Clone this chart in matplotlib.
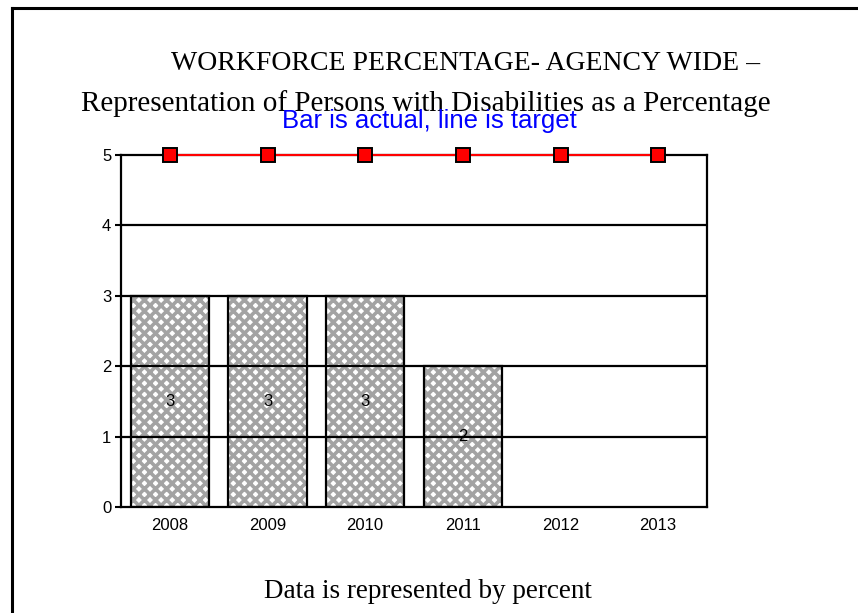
import matplotlib as mpl
mpl.use('Agg')
import matplotlib.pyplot as plt
from matplotlib.lines import Line2D

# data
years = ['2008', '2009', '2010', '2011', '2012', '2013']
actual = [3, 3, 3, 2, None, None]
target = [5, 5, 5, 5, 5, 5]

plt.rcParams['hatch.linewidth'] = 2.6

fig = plt.figure(figsize=(8.58, 6.13), dpi=100)
ax = fig.add_axes([121 / 858, 106 / 613, 586 / 858, 352 / 613])

x = list(range(len(years)))
bx = [i for i, v in zip(x, actual) if v is not None]
bv = [v for v in actual if v is not None]

# hatched fill first, black outline on top
ax.bar(bx, bv, width=0.8, color='white', edgecolor='#a3a3a3', hatch='xxx',
       linewidth=0, zorder=2)
ax.bar(bx, bv, width=0.8, fill=False, edgecolor='black', linewidth=1.6, zorder=3)
for i, v in zip(bx, bv):
    ax.text(i, v / 2, str(v), ha='center', va='center', fontsize=12,
            family='Liberation Sans', zorder=5)

# horizontal grid lines drawn over the bars
for y in [1, 2, 3, 4]:
    ax.axhline(y, color='black', linewidth=1.6, zorder=4)

ax.plot(x, target, color='red', linewidth=1.5, marker='s', markersize=10.5,
        markerfacecolor='red', markeredgecolor='black', markeredgewidth=1.4,
        zorder=6, clip_on=False)

ax.set_xlim(-0.5, len(years) - 0.5)
ax.set_ylim(0, 5)
ax.set_yticks([0, 1, 2, 3, 4, 5])
ax.set_xticks(x)
ax.set_xticklabels(years)
for lab in ax.get_xticklabels() + ax.get_yticklabels():
    lab.set_family('Liberation Sans')
    lab.set_fontsize(12)
ax.tick_params(axis='y', length=4, width=1.5, pad=3)
ax.tick_params(axis='x', length=0, pad=8)
for s in ax.spines.values():
    s.set_linewidth(1.6)

# page border
fig.add_artist(Line2D([12 / 858, 12 / 858], [0, 1 - 8 / 613], color='black',
                      linewidth=2.2, transform=fig.transFigure))
fig.add_artist(Line2D([12 / 858, 1], [1 - 8 / 613, 1 - 8 / 613], color='black',
                      linewidth=2.2, transform=fig.transFigure))

fig.text(466 / 858, 1 - 64 / 613, 'WORKFORCE PERCENTAGE- AGENCY WIDE \u2013',
         ha='center', va='center', fontsize=20, family='Liberation Serif')
fig.text(426 / 858, 1 - 104 / 613,
         'Representation of Persons with Disabilities as a Percentage',
         ha='center', va='center', fontsize=21, family='Liberation Serif')
fig.text(429 / 858, 1 - 121 / 613, 'Bar is actual, line is target',
         ha='center', va='center', fontsize=18.5, color='blue',
         family='Liberation Sans')
fig.text(428 / 858, 1 - 592 / 613, 'Data is represented by percent',
         ha='center', va='center', fontsize=19.5, family='Liberation Serif')

fig.savefig('out.png', dpi=100)
